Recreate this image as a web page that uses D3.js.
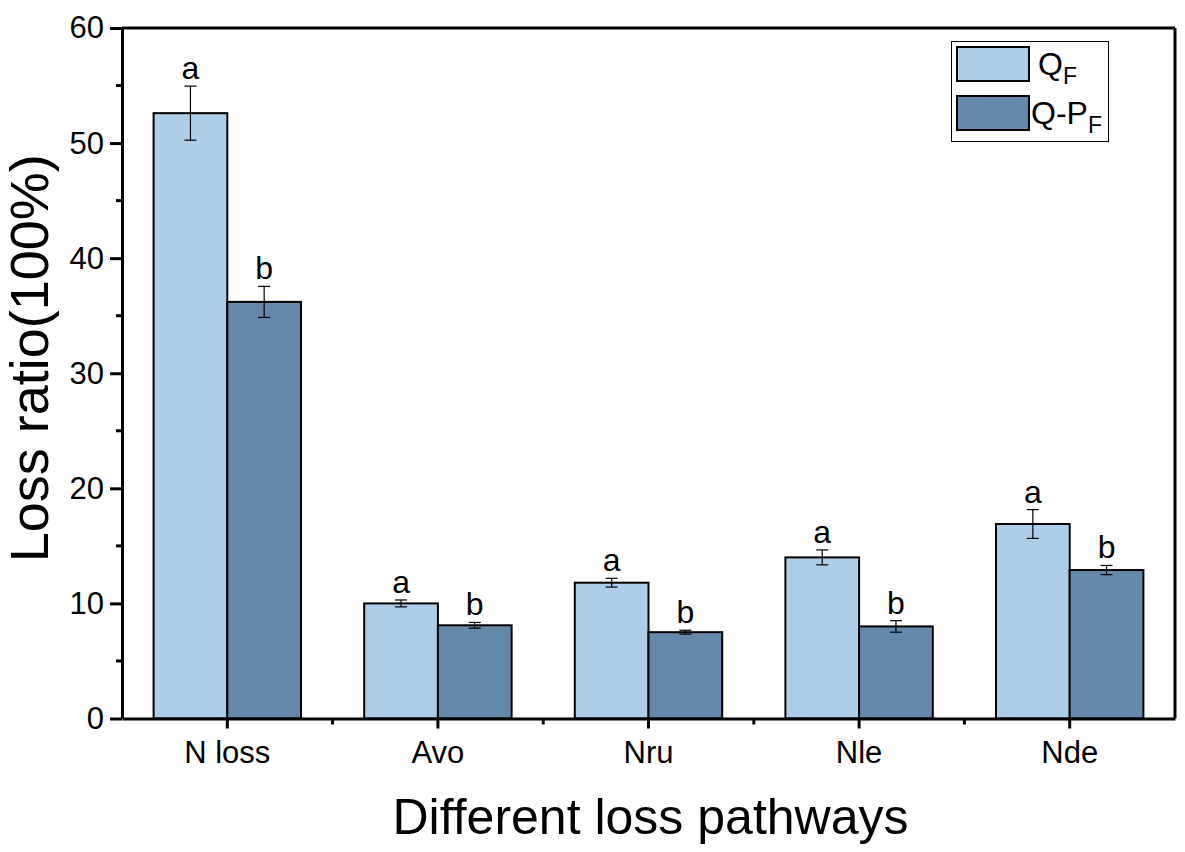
<!DOCTYPE html>
<html>
<head>
<meta charset="utf-8">
<script src="https://cdn.jsdelivr.net/npm/d3@7"></script>
<style>
  body { margin: 0; background: #fff; }
  svg { font-family: "Liberation Sans", Arial, sans-serif; }
</style>
</head>
<body>
<svg id="chart" width="1185" height="852"></svg>
<script>
// Chart data
const categories = ['N loss', 'Avo', 'Nru', 'Nle', 'Nde'];
const seriesNames = ['QF', 'Q-PF'];
const qfValues = [52.6, 10.0, 11.8, 14.0, 16.9];
const qfErrors = [2.35, 0.3, 0.38, 0.65, 1.25];
const qpfValues = [36.2, 8.1, 7.5, 8.0, 12.9];
const qpfErrors = [1.35, 0.25, 0.17, 0.5, 0.4];
const qfLetters = ['a', 'a', 'a', 'a', 'a'];
const qpfLetters = ['b', 'b', 'b', 'b', 'b'];
const yTicks = [0, 10, 20, 30, 40, 50, 60];

const colors = { 'QF': '#aecde8', 'Q-PF': '#6689ab' };

const svg = d3.select('#chart');
const plotLeft = 122, plotRight = 1175, plotTop = 28, plotBottom = 718.5;

const x = d3.scaleBand().domain(categories).range([plotLeft, plotRight]).padding(0);
const bw = x.bandwidth();
const xSub = d3.scaleBand().domain(seriesNames).range([bw * 0.15, bw * 0.85]).padding(0);
const y = d3.scaleLinear().domain([0, 60]).range([plotBottom, plotTop]);

// Build rows for drawing
const rows = [];
categories.forEach((c, i) => {
  rows.push({ cat: c, series: 'QF', value: qfValues[i], err: qfErrors[i], letter: qfLetters[i] });
  rows.push({ cat: c, series: 'Q-PF', value: qpfValues[i], err: qpfErrors[i], letter: qpfLetters[i] });
});

// Bars
svg.append('g')
  .selectAll('rect')
  .data(rows)
  .join('rect')
  .attr('x', d => x(d.cat) + xSub(d.series))
  .attr('y', d => y(d.value))
  .attr('width', xSub.bandwidth())
  .attr('height', d => y(0) - y(d.value))
  .attr('fill', d => colors[d.series])
  .attr('stroke', '#000')
  .attr('stroke-width', 2);

// Error bars
const cx = d => x(d.cat) + xSub(d.series) + xSub.bandwidth() / 2;
const err = svg.append('g').attr('stroke', '#000').attr('stroke-width', 1.2);
err.selectAll('line.v')
  .data(rows)
  .join('line')
  .attr('class', 'v')
  .attr('x1', cx).attr('x2', cx)
  .attr('y1', d => y(d.value + d.err))
  .attr('y2', d => y(d.value - d.err));
['hi', 'lo'].forEach(k => {
  err.selectAll('line.' + k)
    .data(rows)
    .join('line')
    .attr('class', k)
    .attr('x1', d => cx(d) - 6).attr('x2', d => cx(d) + 6)
    .attr('y1', d => y(k === 'hi' ? d.value + d.err : d.value - d.err))
    .attr('y2', d => y(k === 'hi' ? d.value + d.err : d.value - d.err));
});

// Significance letters
svg.append('g')
  .selectAll('text')
  .data(rows)
  .join('text')
  .attr('x', cx)
  .attr('y', d => y(d.value + d.err) - 7)
  .attr('text-anchor', 'middle')
  .attr('font-size', 32)
  .text(d => d.letter);

// Frame (top and right)
svg.append('line').attr('x1', plotLeft).attr('x2', plotRight).attr('y1', plotTop).attr('y2', plotTop)
  .attr('stroke', '#000').attr('stroke-width', 3);
svg.append('line').attr('x1', plotRight).attr('x2', plotRight).attr('y1', plotTop).attr('y2', plotBottom)
  .attr('stroke', '#000').attr('stroke-width', 3);

// Y axis
const yAxis = svg.append('g').attr('transform', `translate(${plotLeft},0)`)
  .call(d3.axisLeft(y).tickValues(yTicks).tickSize(12).tickSizeOuter(0).tickPadding(6));
yAxis.select('.domain').attr('stroke-width', 3);
yAxis.selectAll('.tick line').attr('stroke-width', 3);
yAxis.selectAll('.tick text').attr('font-size', 31).attr('font-family', '"Liberation Sans", Arial, sans-serif').attr('fill', '#000');
// minor y ticks
svg.append('g').selectAll('line')
  .data(d3.range(5, 60, 10))
  .join('line')
  .attr('x1', plotLeft - 6).attr('x2', plotLeft)
  .attr('y1', d => y(d)).attr('y2', d => y(d))
  .attr('stroke', '#000').attr('stroke-width', 3);

// X axis
const xAxis = svg.append('g').attr('transform', `translate(0,${plotBottom})`)
  .call(d3.axisBottom(x).tickSize(10).tickSizeOuter(0).tickPadding(12));
xAxis.select('.domain').attr('stroke-width', 3);
xAxis.selectAll('.tick line').attr('stroke-width', 3);
xAxis.selectAll('.tick text').attr('font-size', 31).attr('font-family', '"Liberation Sans", Arial, sans-serif').attr('fill', '#000');
// minor x ticks at category boundaries
svg.append('g').selectAll('line')
  .data(categories.slice(1))
  .join('line')
  .attr('x1', d => x(d)).attr('x2', d => x(d))
  .attr('y1', plotBottom).attr('y2', plotBottom + 6)
  .attr('stroke', '#000').attr('stroke-width', 3);

// Axis titles
svg.append('text')
  .attr('transform', `translate(48,${(plotTop + plotBottom) / 2 - 15}) rotate(-90)`)
  .attr('text-anchor', 'middle')
  .attr('font-size', 54)
  .text('Loss ratio(100%)');
svg.append('text')
  .attr('x', (plotLeft + plotRight) / 2 + 2)
  .attr('y', 834)
  .attr('text-anchor', 'middle')
  .attr('font-size', 50)
  .text('Different loss pathways');

// Legend
const legend = svg.append('g');
legend.append('rect')
  .attr('x', 951.5).attr('y', 41.5).attr('width', 157).attr('height', 100)
  .attr('fill', '#fff').attr('stroke', '#000').attr('stroke-width', 1);
const legendItems = [
  { series: 'QF', main: 'Q', sub: 'F', y: 47, tx: 1038 },
  { series: 'Q-PF', main: 'Q-P', sub: 'F', y: 96, tx: 1031 }
];
legendItems.forEach(item => {
  legend.append('rect')
    .attr('x', 957).attr('y', item.y).attr('width', 72).attr('height', 34)
    .attr('fill', colors[item.series]).attr('stroke', '#000').attr('stroke-width', 2);
  const t = legend.append('text')
    .attr('x', item.tx).attr('y', item.y + 28)
    .attr('font-size', 32);
  t.append('tspan').text(item.main);
  t.append('tspan').attr('font-size', 23).attr('dy', 9).text(item.sub);
});
</script>
</body>
</html>
